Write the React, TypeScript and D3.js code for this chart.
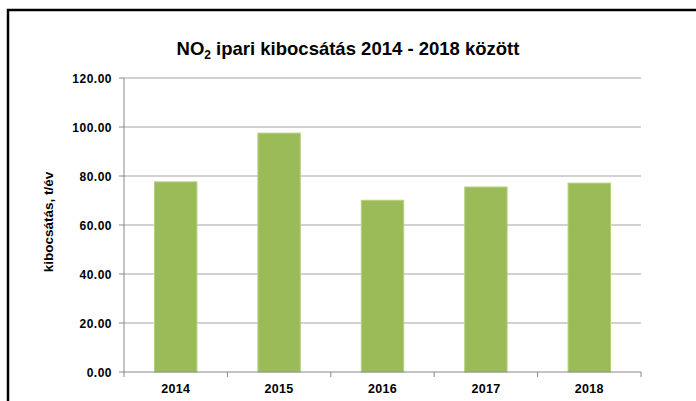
import React from "react";
import * as d3 from "d3";

const categories = ["2014", "2015", "2016", "2017", "2018"];
const values = [77.6, 97.5, 70.1, 75.5, 77.1];
const yTicks = [0, 20, 40, 60, 80, 100, 120];

export default function App() {
  const W = 696, H = 401;
  const m = { left: 124, right: 641, top: 78, bottom: 372 };
  const x = d3.scaleBand<string>().domain(categories).range([m.left, m.right]).paddingInner(0.59).paddingOuter(0.295);
  const xb = d3.scaleBand<string>().domain(categories).range([m.left, m.right]);
  const y = d3.scaleLinear().domain([0, 120]).range([m.bottom, m.top]);
  const font = "'Liberation Sans', Arial, sans-serif";
  return (
    <svg width={W} height={H} style={{ position: "absolute", left: 0, top: 0 }} fontFamily={font}>
      <rect x={0} y={0} width={W} height={H} fill="#fff" />
      <rect x={8} y={10} width={W + 10} height={H + 10} fill="none" stroke="#000" strokeWidth={2.5} />
      <text x={348} y={55} textAnchor="middle" fontSize={18.5} fontWeight="bold">
        NO<tspan fontSize={12} dy={4}>2</tspan><tspan dy={-4}> ipari kibocsátás 2014 - 2018 között</tspan>
      </text>
      {yTicks.map((t) => (
        <g key={t}>
          {t > 0 && <line x1={m.left} x2={m.right} y1={y(t)} y2={y(t)} stroke="#a6a6a6" strokeWidth={1.2} />}
          <line x1={m.left - 5} x2={m.left} y1={y(t)} y2={y(t)} stroke="#888" strokeWidth={1} />
          <text x={112} y={y(t) + 4.5} textAnchor="end" fontSize={12} letterSpacing={0.5} fontWeight="bold">{t.toFixed(2)}</text>
        </g>
      ))}
      {categories.map((c, i) => (
        <rect key={c} x={x(c)} y={y(values[i])} width={x.bandwidth()} height={y(0) - y(values[i])} fill="#9bbb59" stroke="#b5d07e" strokeWidth={1} />
      ))}
      <line x1={m.left} x2={m.left} y1={m.top} y2={m.bottom} stroke="#888" strokeWidth={1} />
      <line x1={m.left} x2={m.right} y1={m.bottom} y2={m.bottom} stroke="#888" strokeWidth={1.2} />
      {categories.map((c) => (
        <line key={"t" + c} x1={xb(c)} x2={xb(c)} y1={m.bottom} y2={m.bottom + 5} stroke="#888" strokeWidth={1} />
      ))}
      <line x1={m.right} x2={m.right} y1={m.bottom} y2={m.bottom + 5} stroke="#888" strokeWidth={1} />
      {categories.map((c) => (
        <text key={"l" + c} x={(xb(c) as number) + xb.bandwidth() / 2} y={392.5} textAnchor="middle" fontSize={12.5} letterSpacing={0.3} fontWeight="bold">{c}</text>
      ))}
      <text transform="translate(52.5,222) rotate(-90)" textAnchor="middle" fontSize={13.5} fontWeight="bold">kibocsátás, t/év</text>
    </svg>
  );
}
